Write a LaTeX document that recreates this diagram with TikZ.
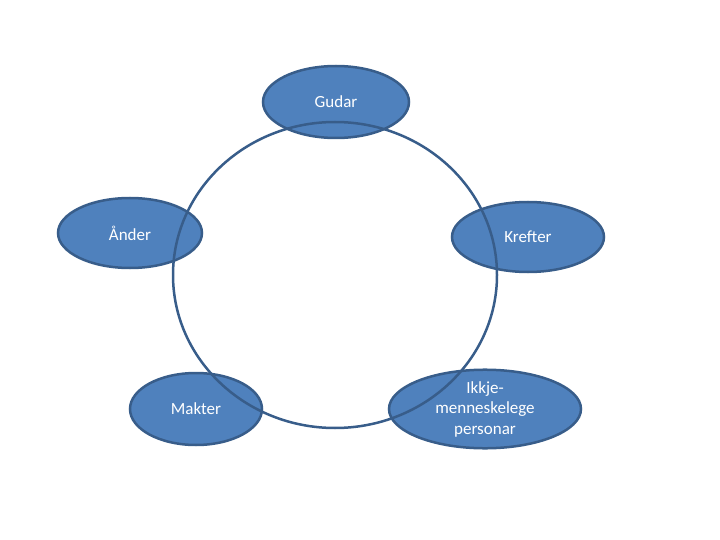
\documentclass[tikz,border=0pt]{standalone}
\usepackage{fontspec}
\setmainfont{Carlito}
\usetikzlibrary{shapes.geometric}
\definecolor{fillblue}{HTML}{4F81BD}
\definecolor{edgeblue}{HTML}{385D8A}
\tikzset{
  oval/.style={ellipse, draw=edgeblue, fill=fillblue, line width=2.5pt, inner sep=0pt,
    text=white, font=\fontsize{17}{20.5}\selectfont, align=center},
  ring/.style={draw=edgeblue, line width=2.5pt}
}
\begin{document}
\begin{tikzpicture}[x=1pt,y=1pt]
\useasboundingbox (0,0) rectangle (720,-540);
\node[oval, minimum width=146pt, minimum height=72pt] (gudar) at (336,-102) {Gudar};
\node[oval, minimum width=144pt, minimum height=70pt] (ander) at (130,-233) {Ånder};
\node[oval, minimum width=152pt, minimum height=70pt] (krefter) at (528,-237) {Krefter};
\node[oval, minimum width=132pt, minimum height=72pt] (makter) at (196,-409) {Makter};
\node[oval, minimum width=192pt, minimum height=72pt, text width=120pt] (ikkje) at (485,-409) {Ikkje-\\menneskelege\\personar};
\coordinate (c) at (335,-275);
\draw[ring] (c) ellipse [x radius=162pt, y radius=153pt];
\end{tikzpicture}
\end{document}
